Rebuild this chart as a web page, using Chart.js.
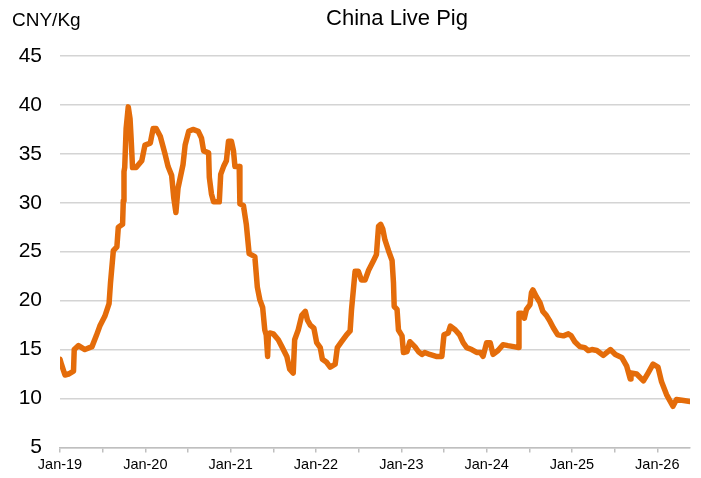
<!DOCTYPE html>
<html>
<head>
<meta charset="utf-8">
<script src="https://cdn.jsdelivr.net/npm/chart.js@4"></script>
<style>
    body { margin: 0; background: #ffffff; }
    #wrap { width: 701px; height: 478px; position: relative; }
</style>
</head>
<body>
<div id="wrap"><canvas id="js--chart"></canvas></div>
<script>
// months since Jan-2019
const months = [
    0.0, 0.2, 0.7, 1.2, 1.9, 2.0, 2.6, 3.5, 4.5, 5.1, 5.6, 6.3, 6.9, 7.1, 7.5, 8.0, 8.2, 8.8, 8.9, 9.0,
    9.1, 9.3, 9.6, 9.85, 10.0, 10.2, 10.7, 11.5, 11.95, 12.7, 13.1, 13.5, 14.1, 14.8, 15.2, 15.7, 16.0, 16.3, 16.6, 17.3,
    17.6, 18.1, 18.7, 19.45, 19.9, 20.2, 20.9, 21.0, 21.3, 21.6, 22.4, 22.6, 23.0, 23.4, 23.7, 24.1, 24.4, 24.6, 25.2, 25.3,
    25.8, 26.2, 26.6, 27.4, 27.75, 28.1, 28.5, 28.8, 29.0, 29.2, 29.3, 29.5, 30.0, 30.7, 31.2, 31.9, 32.3, 32.8, 33.0, 33.5,
    34.0, 34.5, 34.8, 35.2, 35.7, 36.1, 36.6, 36.9, 37.5, 38.0, 38.7, 39.0, 39.6, 40.3, 40.8, 41.0, 41.5, 41.95, 42.4, 42.9,
    43.4, 44.1, 44.5, 44.8, 45.1, 45.4, 45.7, 46.2, 46.7, 46.9, 47.0, 47.4, 47.6, 48.1, 48.3, 48.8, 49.2, 49.9, 50.4, 50.9,
    51.3, 52.0, 52.9, 53.7, 54.0, 54.6, 54.9, 55.6, 56.2, 56.7, 57.2, 57.9, 58.6, 59.1, 59.5, 60.0, 60.5, 60.9, 61.6, 62.3,
    63.0, 63.8, 64.5, 64.55, 64.9, 65.3, 65.6, 66.1, 66.3, 66.5, 67.0, 67.5, 67.9, 68.4, 68.9, 69.4, 70.0, 70.8, 71.5, 71.9,
    72.4, 73.1, 73.8, 74.3, 74.8, 75.5, 76.4, 77.4, 78.1, 79.0, 79.7, 80.2, 80.3, 81.1, 82.05, 82.7, 83.4, 84.1, 84.6, 85.3,
    86.2, 86.7, 87.7, 88.6
];

const prices = [
    14.0, 13.5, 12.4, 12.5, 12.8, 15.0, 15.4, 15.0, 15.3, 16.4, 17.4, 18.4, 19.7, 21.8, 25.1, 25.5, 27.5, 27.8, 30.2, 33.2,
    33.6, 37.6, 39.8, 38.6, 36.6, 33.6, 33.6, 34.3, 35.9, 36.1, 37.6, 37.6, 36.8, 34.9, 33.7, 32.8, 30.5, 29.0, 31.5, 33.9,
    35.9, 37.3, 37.5, 37.3, 36.6, 35.3, 35.1, 32.6, 30.9, 30.1, 30.1, 32.9, 33.7, 34.3, 36.3, 36.3, 35.3, 33.7, 33.7, 29.9,
    29.7, 27.8, 24.8, 24.5, 21.4, 20.1, 19.3, 17.0, 16.5, 14.3, 16.4, 16.7, 16.6, 16.0, 15.3, 14.3, 13.0, 12.6, 16.0, 17.0,
    18.5, 18.9, 18.0, 17.5, 17.2, 15.7, 15.2, 14.0, 13.7, 13.2, 13.5, 15.2, 15.8, 16.5, 16.9, 19.1, 23.0, 23.0, 22.1, 22.1,
    23.1, 24.1, 24.7, 27.6, 27.8, 27.3, 26.2, 25.1, 24.1, 21.8, 19.4, 19.1, 17.0, 16.4, 14.7, 14.8, 15.8, 15.3, 14.8, 14.5,
    14.7, 14.5, 14.3, 14.3, 16.5, 16.7, 17.4, 17.0, 16.5, 15.7, 15.2, 15.0, 14.7, 14.7, 14.3, 15.7, 15.7, 14.5, 14.9, 15.5,
    15.4, 15.3, 15.2, 18.7, 18.7, 18.2, 19.1, 19.6, 20.8, 21.1, 20.4, 19.8, 18.9, 18.5, 17.9, 17.2, 16.5, 16.4, 16.6, 16.4,
    15.8, 15.3, 15.2, 14.9, 15.0, 14.9, 14.4, 15.0, 14.5, 14.2, 13.3, 12.0, 12.6, 12.5, 11.8, 12.6, 13.5, 13.2, 11.7, 10.4,
    9.2, 9.9, 9.8, 9.7
];

const tickLabels = ["Jan-19", "Jan-20", "Jan-21", "Jan-22", "Jan-23", "Jan-24", "Jan-25", "Jan-26"];

const points = [];
for (let i = 0; i < months.length; i++) {
    points.push({x: months[i], y: prices[i]});
}

// title and unit text
const headerText = {
    id: "headerText",
    afterDraw: function(chart) {
        const ctx = chart.ctx;
        ctx.save();
        ctx.fillStyle = "#000000";
        ctx.textBaseline = "middle";
        ctx.font = "22px 'Liberation Sans', Arial, sans-serif";
        ctx.textAlign = "center";
        ctx.fillText("China Live Pig", 397, 19);
        ctx.font = "19px 'Liberation Sans', Arial, sans-serif";
        ctx.textAlign = "left";
        ctx.fillText("CNY/Kg", 12, 21);
        ctx.restore();
    }
};

const config = {
    type: "line",
    data: {
        datasets: [{
            label: "China Live Pig",
            data: points,
            borderColor: "#E46C0A",
            borderWidth: 5.5,
            pointRadius: 0,
            tension: 0,
            borderJoinStyle: "round",
            borderCapStyle: "round"
        }]
    },
    options: {
        responsive: false,
        animation: false,
        layout: {padding: {top: 56, right: 11, left: 0, bottom: 0}},
        plugins: {
            legend: {display: false},
            tooltip: {enabled: false}
        },
        scales: {
            x: {
                type: "linear",
                min: 0,
                max: 88.6,
                afterBuildTicks: function(scale) {
                    const t = [];
                    for (let m = 0; m <= 88; m += 6) t.push({value: m});
                    scale.ticks = t;
                },
                afterFit: function(scale) { scale.height = 29; },
                border: {display: true, color: "#bfbfbf", width: 1.5},
                grid: {drawOnChartArea: false, drawTicks: true, tickLength: 5, color: "#bfbfbf", lineWidth: 1.5},
                ticks: {
                    autoSkip: false,
                    maxRotation: 0,
                    padding: 4,
                    color: "#000000",
                    font: {family: "'Liberation Sans', Arial, sans-serif", size: 14.5},
                    callback: function(value) {
                        if (value % 12 === 0) return tickLabels[value / 12];
                        return "";
                    }
                }
            },
            y: {
                min: 5,
                max: 45,
                afterFit: function(scale) { scale.width = 60; },
                border: {display: false},
                grid: {color: "#d4d4d4", lineWidth: 1.5, drawTicks: false},
                ticks: {
                    stepSize: 5,
                    padding: 18,
                    color: "#000000",
                    font: {family: "'Liberation Sans', Arial, sans-serif", size: 21}
                }
            }
        }
    },
    plugins: [headerText]
};

const canvas = document.getElementById("js--chart");
canvas.width = 701;
canvas.height = 478;
new Chart(canvas, config);
</script>
</body>
</html>
